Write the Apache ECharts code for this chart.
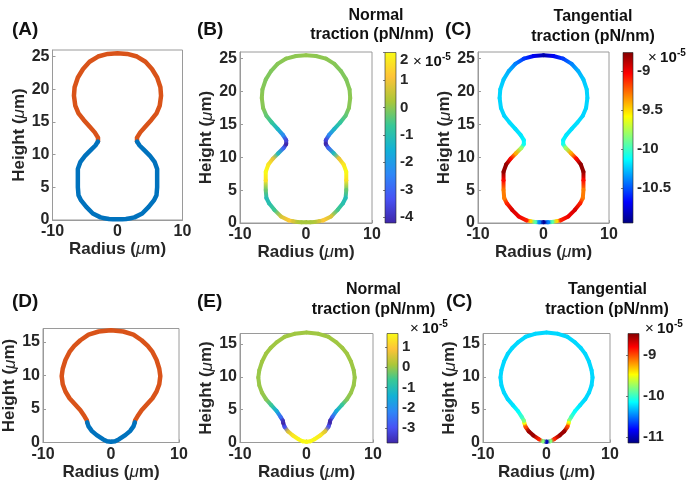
<!DOCTYPE html>
<html><head><meta charset="utf-8">
<script src="https://cdn.jsdelivr.net/npm/echarts@6/dist/echarts.min.js"></script>
<style>html,body{margin:0;padding:0;background:#fff}#c{width:692px;height:489px}</style>
</head><body><div id="c"></div>
<script>
// ---------- DATA ----------
// Top row shape (panels A, B, C): right half profile, from top centre down to bottom centre
const topRadius = [0, 1.5, 3.0, 4.3, 5.3, 6.1, 6.6, 6.7, 6.5, 6.0, 5.2, 4.3, 3.5, 3.0, 3.0, 3.4, 4.2, 5.0, 5.7, 6.1, 6.1, 6.1, 6.0, 5.6, 4.8, 3.8, 2.6, 2.0, 1.3, 0.7, 0];
const topHeight = [25.5, 25.4, 25.0, 24.2, 23.1, 21.8, 20.3, 19.0, 17.5, 16.3, 15.3, 14.3, 13.4, 12.6, 12.0, 11.4, 10.6, 9.8, 8.9, 7.8, 6.5, 5.0, 3.8, 3.0, 2.0, 1.0, 0.4, 0.28, 0.15, 0.1, 0.1];
const topNormal = [0.05, 0.0, 0.0, -0.05, -0.1, -0.1, -0.05, 0.0, -0.05, -0.35, -0.75, -1.3, -2.3, -3.6, -4.2, -3.0, -1.2, 0.9, 1.7, 2.0, 1.6, -0.3, -1.1, -1.0, -0.6, 0.7, 1.2, 0.7, 0.3, 0.2, 0.2];
const topTangential = [-10.85, -10.7, -10.55, -10.4, -10.3, -10.25, -10.22, -10.22, -10.22, -10.22, -10.2, -10.2, -10.18, -10.15, -10.1, -9.8, -9.4, -9.05, -8.8, -8.8, -9.05, -9.3, -9.3, -9.1, -8.95, -9.0, -9.1, -9.5, -9.95, -10.4, -10.9];
const topSplitIndex = 14; // neck: orange above, blue below (panel A)

// Bottom row shape (panels D, E, F)
const botRadius = [0, 1.8, 3.3, 4.5, 5.4, 6.1, 6.7, 7.1, 7.25, 7.1, 6.7, 6.1, 5.3, 4.5, 3.9, 3.55, 3.5, 3.3, 2.8, 2.1, 1.2, 0.6, 0];
const botHeight = [16.75, 16.55, 16.1, 15.25, 14.4, 13.5, 12.3, 11.0, 9.9, 8.7, 7.6, 6.6, 5.7, 4.8, 3.9, 3.3, 3.0, 2.4, 1.7, 1.1, 0.5, 0.2, 0.1];
const botNormal = [0.05, 0.05, 0.05, 0.05, 0.05, 0.05, 0.05, 0.0, 0.0, 0.0, 0.0, -0.1, -0.7, -1.5, -2.6, -3.6, -3.75, -3.0, 0.6, 1.4, 1.6, 1.65, 1.65];
const botTangential = [-10.25, -10.25, -10.25, -10.25, -10.25, -10.25, -10.25, -10.25, -10.25, -10.25, -10.25, -10.25, -10.22, -10.15, -10.0, -9.8, -9.5, -9.0, -8.55, -8.55, -8.9, -9.8, -11.0];
const botSplitIndex = 16;

// Colour-bar ranges and tick labels (x 10^-5)
const normalTopRange = [-4.21, 2.0];
const normalTopTicks = [-4, -3, -2, -1, 0, 1, 2];
const tangTopRange = [-10.95, -8.76];
const tangTopTicks = [-10.5, -10, -9.5, -9];
const normalBotRange = [-3.75, 1.67];
const normalBotTicks = [-3, -2, -1, 0, 1];
const tangBotRange = [-11.15, -8.48];
const tangBotTicks = [-11, -10, -9];

const xTicks = [-10, 0, 10];
const yMaxTop = 26, yMaxBot = 17, yMaxBot2 = 16.6;

// colormaps
const parula = ['#3e26a8', '#4852f4', '#2e87f7', '#12b1d6', '#37c897', '#abc739', '#fec338', '#f9fb15'];
const jet = ['#000080', '#0000ff', '#0080ff', '#00ffff', '#80ff80', '#ffff00', '#ff8000', '#ff0000', '#800000'];

// ---------- BUILD ----------
function loop(r, z, v) {
  const pts = [];
  for (let i = 0; i < r.length; i++) pts.push([r[i], z[i], v[i]]);
  for (let i = r.length - 2; i >= 0; i--) pts.push([-r[i], z[i], v[i]]);
  return pts;
}
function upperPart(r, z, k) {
  const pts = [];
  for (let i = k; i >= 1; i--) pts.push([-r[i], z[i]]);
  for (let i = 0; i <= k; i++) pts.push([r[i], z[i]]);
  return pts;
}
function lowerPart(r, z, k) {
  const pts = [];
  for (let i = k; i < r.length; i++) pts.push([r[i], z[i]]);
  for (let i = r.length - 2; i >= k; i--) pts.push([-r[i], z[i]]);
  return pts;
}

const FONT = '"Liberation Sans", Arial, Helvetica, sans-serif';
const TXT = '#262626';
const BOX = '#9a9a9a';

const plotGrids = [
  {left: 52.5, top: 50, width: 130, height: 170},
  {left: 240, top: 52, width: 132, height: 171},
  {left: 478, top: 52, width: 131, height: 171},
  {left: 43, top: 328.5, width: 136, height: 114},
  {left: 240, top: 333.5, width: 133, height: 109},
  {left: 483, top: 333.5, width: 127, height: 109}
];
const cbGrids = [
  {left: 385, top: 52.5, width: 11, height: 170.5},
  {left: 623, top: 52.5, width: 10, height: 170.5},
  {left: 387, top: 333.5, width: 11, height: 109.5},
  {left: 628, top: 333.5, width: 11, height: 109.5}
];
const yMaxes = [yMaxTop, yMaxTop, yMaxTop, yMaxBot, yMaxBot2, yMaxBot2];
const cbRanges = [normalTopRange, tangTopRange, normalBotRange, tangBotRange];
const cbTicks = [normalTopTicks, tangTopTicks, normalBotTicks, tangBotTicks];
const cbMaps = [parula, jet, parula, jet];

const grid = [];
const xAxis = [];
const yAxis = [];
plotGrids.forEach((g, i) => {
  grid.push(Object.assign({show: true, borderColor: BOX, borderWidth: 1, containLabel: false}, g));
  xAxis.push({
    type: 'value', gridIndex: i, min: -10, max: 10, interval: 10,
    axisLine: {show: true, onZero: false, lineStyle: {color: BOX}},
    axisTick: {show: true, inside: true, length: 3, lineStyle: {color: BOX}},
    splitLine: {show: false},
    axisLabel: {color: TXT, fontFamily: FONT, fontWeight: 'bold', fontSize: 16, margin: 4,
      customValues: xTicks},
    name: 'Radius ({i|μ}m)', nameLocation: 'middle', nameGap: 19,
    nameTextStyle: {color: TXT, fontFamily: FONT, fontWeight: 'bold', fontSize: 17,
      rich: {i: {fontStyle: 'italic', fontWeight: 'normal', fontSize: 17, fontFamily: FONT, color: TXT}}}
  });
  yAxis.push({
    type: 'value', gridIndex: i, min: 0, max: yMaxes[i], interval: 5,
    axisLine: {show: true, onZero: false, lineStyle: {color: BOX}},
    axisTick: {show: true, inside: true, length: 3, lineStyle: {color: BOX}},
    splitLine: {show: false},
    axisLabel: {color: TXT, fontFamily: FONT, fontWeight: 'bold', fontSize: 16, margin: 3, showMaxLabel: false},
    name: 'Height ({i|μ}m)', nameLocation: 'middle', nameGap: 24,
    nameTextStyle: {color: TXT, fontFamily: FONT, fontWeight: 'bold', fontSize: 17,
      rich: {i: {fontStyle: 'italic', fontWeight: 'normal', fontSize: 17, fontFamily: FONT, color: TXT}}}
  });
});
cbGrids.forEach((g, j) => {
  const gi = 6 + j;
  grid.push(Object.assign({show: false}, g));
  xAxis.push({type: 'value', gridIndex: gi, min: 0, max: 1, show: false});
  const lab = {color: TXT, fontFamily: FONT, fontWeight: 'bold', fontSize: 15, margin: 4,
      customValues: cbTicks[j], showMaxLabel: true, showMinLabel: true};
  if (cbTicks[j][cbTicks[j].length - 1] === cbRanges[j][1]) lab.verticalAlignMaxLabel = 'top';
  yAxis.push({
    type: 'value', gridIndex: gi, position: 'right', min: cbRanges[j][0], max: cbRanges[j][1],
    axisLine: {show: false},
    axisTick: {show: true, inside: true, length: 2, lineStyle: {color: TXT, width: 0.6}, customValues: cbTicks[j]},
    splitLine: {show: false},
    axisLabel: lab
  });
});

function segRender(params, api) {
  const i = params.dataIndexInside;
  if (i >= params.dataInsideLength - 1) return null;
  const p1 = api.coord([api.value(0, i), api.value(1, i)]);
  const p2 = api.coord([api.value(0, i + 1), api.value(1, i + 1)]);
  const c1 = api.visual('color', i);
  const c2 = api.visual('color', i + 1);
  return {
    type: 'line',
    shape: {x1: p1[0], y1: p1[1], x2: p2[0], y2: p2[1]},
    style: {
      stroke: new echarts.graphic.LinearGradient(p1[0], p1[1], p2[0], p2[1],
        [{offset: 0, color: c1}, {offset: 1, color: c2}], true),
      lineWidth: 4, lineCap: 'round'
    }
  };
}
function cbRender(params, api) {
  const tl = api.coord([0, api.value(2)]);
  const br = api.coord([1, api.value(1)]);
  const cols = cbMaps[params.seriesIndex - 8];
  const stops = cols.map((c, k) => ({offset: k / (cols.length - 1), color: c}));
  return {
    type: 'rect',
    shape: {x: tl[0], y: tl[1], width: br[0] - tl[0], height: br[1] - tl[1]},
    style: {fill: new echarts.graphic.LinearGradient(0, 1, 0, 0, stops), stroke: TXT, lineWidth: 0.6}
  };
}
function twoTone(gi, pts, color) {
  return {type: 'line', xAxisIndex: gi, yAxisIndex: gi, data: pts, showSymbol: false, symbol: 'none',
    silent: true, animation: false,
    lineStyle: {color: color, width: 4.5, cap: 'round', join: 'round'}};
}
function colored(gi, pts) {
  return {type: 'custom', xAxisIndex: gi, yAxisIndex: gi, data: pts, renderItem: segRender,
    encode: {x: 0, y: 1}, silent: true, animation: false, clip: false};
}
const ORANGE = '#D95319', BLUE = '#0072BD';
const series = [
  twoTone(0, upperPart(topRadius, topHeight, topSplitIndex), ORANGE),
  twoTone(0, lowerPart(topRadius, topHeight, topSplitIndex), BLUE),
  colored(1, loop(topRadius, topHeight, topNormal)),
  colored(2, loop(topRadius, topHeight, topTangential)),
  twoTone(3, upperPart(botRadius, botHeight, botSplitIndex), ORANGE),
  twoTone(3, lowerPart(botRadius, botHeight, botSplitIndex), BLUE),
  colored(4, loop(botRadius, botHeight, botNormal)),
  colored(5, loop(botRadius, botHeight, botTangential))
];
cbRanges.forEach((rg, j) => {
  series.push({type: 'custom', xAxisIndex: 6 + j, yAxisIndex: 6 + j, data: [[0, rg[0], rg[1]]],
    renderItem: cbRender, silent: true, animation: false});
});

const visualMap = [
  {type: 'continuous', show: false, seriesIndex: 2, dimension: 2, min: normalTopRange[0], max: normalTopRange[1], inRange: {color: parula}},
  {type: 'continuous', show: false, seriesIndex: 3, dimension: 2, min: tangTopRange[0], max: tangTopRange[1], inRange: {color: jet}},
  {type: 'continuous', show: false, seriesIndex: 6, dimension: 2, min: normalBotRange[0], max: normalBotRange[1], inRange: {color: parula}},
  {type: 'continuous', show: false, seriesIndex: 7, dimension: 2, min: tangBotRange[0], max: tangBotRange[1], inRange: {color: jet}}
];

function txt(text, x, y, size, align, weight) {
  return {type: 'text', x: x, y: y, silent: true,
    style: {text: text, fill: '#111', font: (weight || 'bold') + ' ' + size + 'px ' + FONT,
      align: align || 'left', verticalAlign: 'middle'}};
}
function expo(x, y) {
  return [
    {type: 'text', x: x, y: y, silent: true,
      style: {text: '{x|×} {b|10}', verticalAlign: 'middle', align: 'left',
        rich: {x: {fontFamily: FONT, fontSize: 15, fontWeight: 'normal', fill: '#111'},
               b: {fontFamily: FONT, fontSize: 15, fontWeight: 'bold', fill: '#111'}}}},
    txt('-5', x + 29, y - 5, 10, 'left')
  ];
}
const graphic = [
  txt('(A)', 12, 30, 19), txt('(B)', 197, 30, 19), txt('(C)', 445, 30, 19),
  txt('(D)', 12, 302, 19), txt('(E)', 197, 302, 19), txt('(C)', 446, 302, 19),
  txt('Normal', 376, 16, 16, 'center'), txt('traction (pN/nm)', 372, 35, 16, 'center'),
  txt('Tangential', 593, 17, 16, 'center'), txt('traction (pN/nm)', 593, 37, 16, 'center'),
  txt('Normal', 373.5, 290, 16, 'center'), txt('traction (pN/nm)', 373.5, 310, 16, 'center'),
  txt('Tangential', 607.5, 290, 16, 'center'), txt('traction (pN/nm)', 607, 310, 16, 'center')
].concat(expo(413, 62), expo(648, 58), expo(410, 329), expo(645, 329));

const chart = echarts.init(document.getElementById('c'), null, {renderer: 'canvas'});
chart.setOption({animation: false, backgroundColor: '#fff', grid, xAxis, yAxis, series, visualMap, graphic});
</script></body></html>
